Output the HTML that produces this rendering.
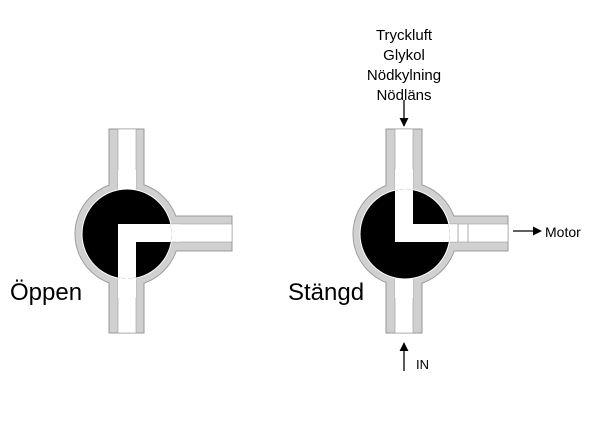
<!DOCTYPE html>
<html><head><meta charset="utf-8"><style>
html,body{margin:0;padding:0;background:#fff;}
svg{display:block;}
text{font-family:"Liberation Sans","DejaVu Sans",sans-serif;fill:#000;}
</style></head><body>
<svg width="600" height="438" viewBox="0 0 600 438" xmlns="http://www.w3.org/2000/svg">
<defs>
<marker id="ah" viewBox="0 0 10 10" refX="9" refY="5" markerWidth="7" markerHeight="7" orient="auto"><path d="M0,0 L10,5 L0,10 z" fill="#000"/></marker>
<clipPath id="c1"><circle cx="127" cy="234" r="44.5"/></clipPath>
<clipPath id="c2"><circle cx="405" cy="234" r="44.5"/></clipPath>
</defs>
<!-- Left valve -->
<g>
  <circle cx="127" cy="234" r="52" fill="#d0d0d0" stroke="#999" stroke-width="1"/>
  <rect x="109" y="129" width="35" height="204" fill="#d0d0d0" stroke="#999" stroke-width="1"/>
  <rect x="127" y="216" width="105" height="35" fill="#d0d0d0" stroke="#999" stroke-width="1"/>
  <circle cx="127" cy="234" r="51.5" fill="#d0d0d0"/>
  <rect x="118" y="129" width="18" height="204" fill="#fff" stroke="#999" stroke-width="0.6"/>
  <rect x="160" y="224" width="72" height="18" fill="#fff" stroke="#999" stroke-width="0.6"/>
  <rect x="118" y="170" width="18" height="128" fill="#fff"/>
  <rect x="160" y="224.3" width="20" height="17.4" fill="#fff"/>
  <circle cx="127" cy="234" r="45.5" fill="#fff"/>
  <circle cx="127" cy="234" r="44.5" fill="#000"/>
  <g clip-path="url(#c1)">
    <rect x="118" y="224" width="62" height="18" fill="#fff"/>
    <rect x="118" y="224" width="18" height="66" fill="#fff"/>
  </g>
</g>
<!-- Right valve -->
<g>
  <circle cx="405" cy="234" r="52" fill="#d0d0d0" stroke="#999" stroke-width="1"/>
  <rect x="386" y="129" width="36" height="204" fill="#d0d0d0" stroke="#999" stroke-width="1"/>
  <rect x="405" y="216" width="103" height="35" fill="#d0d0d0" stroke="#999" stroke-width="1"/>
  <circle cx="405" cy="234" r="51.5" fill="#d0d0d0"/>
  <rect x="395" y="129" width="18" height="204" fill="#fff" stroke="#999" stroke-width="0.6"/>
  <rect x="440" y="224" width="68" height="18" fill="#fff" stroke="#999" stroke-width="0.6"/>
  <rect x="395" y="170" width="18" height="128" fill="#fff"/>
  <rect x="440" y="224.3" width="18" height="17.4" fill="#fff"/>
  <line x1="458" y1="224" x2="458" y2="242" stroke="#999" stroke-width="0.8"/>
  <line x1="468" y1="224" x2="468" y2="242" stroke="#999" stroke-width="0.8"/>
  <circle cx="405" cy="234" r="45.5" fill="#fff"/>
  <circle cx="405" cy="234" r="44.5" fill="#000"/>
  <g clip-path="url(#c2)">
    <rect x="395" y="178" width="18" height="64" fill="#fff"/>
    <rect x="395" y="224" width="63" height="18" fill="#fff"/>
  </g>
</g>
<text x="10" y="300" font-size="24">Öppen</text>
<text x="288" y="300" font-size="24">Stängd</text>
<g font-size="15" text-anchor="middle">
  <text x="404" y="40">Tryckluft</text>
  <text x="404" y="60">Glykol</text>
  <text x="404" y="80">Nödkylning</text>
  <text x="404" y="100">Nödläns</text>
</g>
<line x1="404" y1="100" x2="404" y2="126" stroke="#000" stroke-width="1.3" marker-end="url(#ah)"/>
<line x1="513" y1="231" x2="541" y2="231" stroke="#000" stroke-width="1.3" marker-end="url(#ah)"/>
<text x="545" y="237" font-size="14">Motor</text>
<line x1="404" y1="371" x2="404" y2="343" stroke="#000" stroke-width="1.3" marker-end="url(#ah)"/>
<text x="416" y="369" font-size="13">IN</text>
</svg>
</body></html>
